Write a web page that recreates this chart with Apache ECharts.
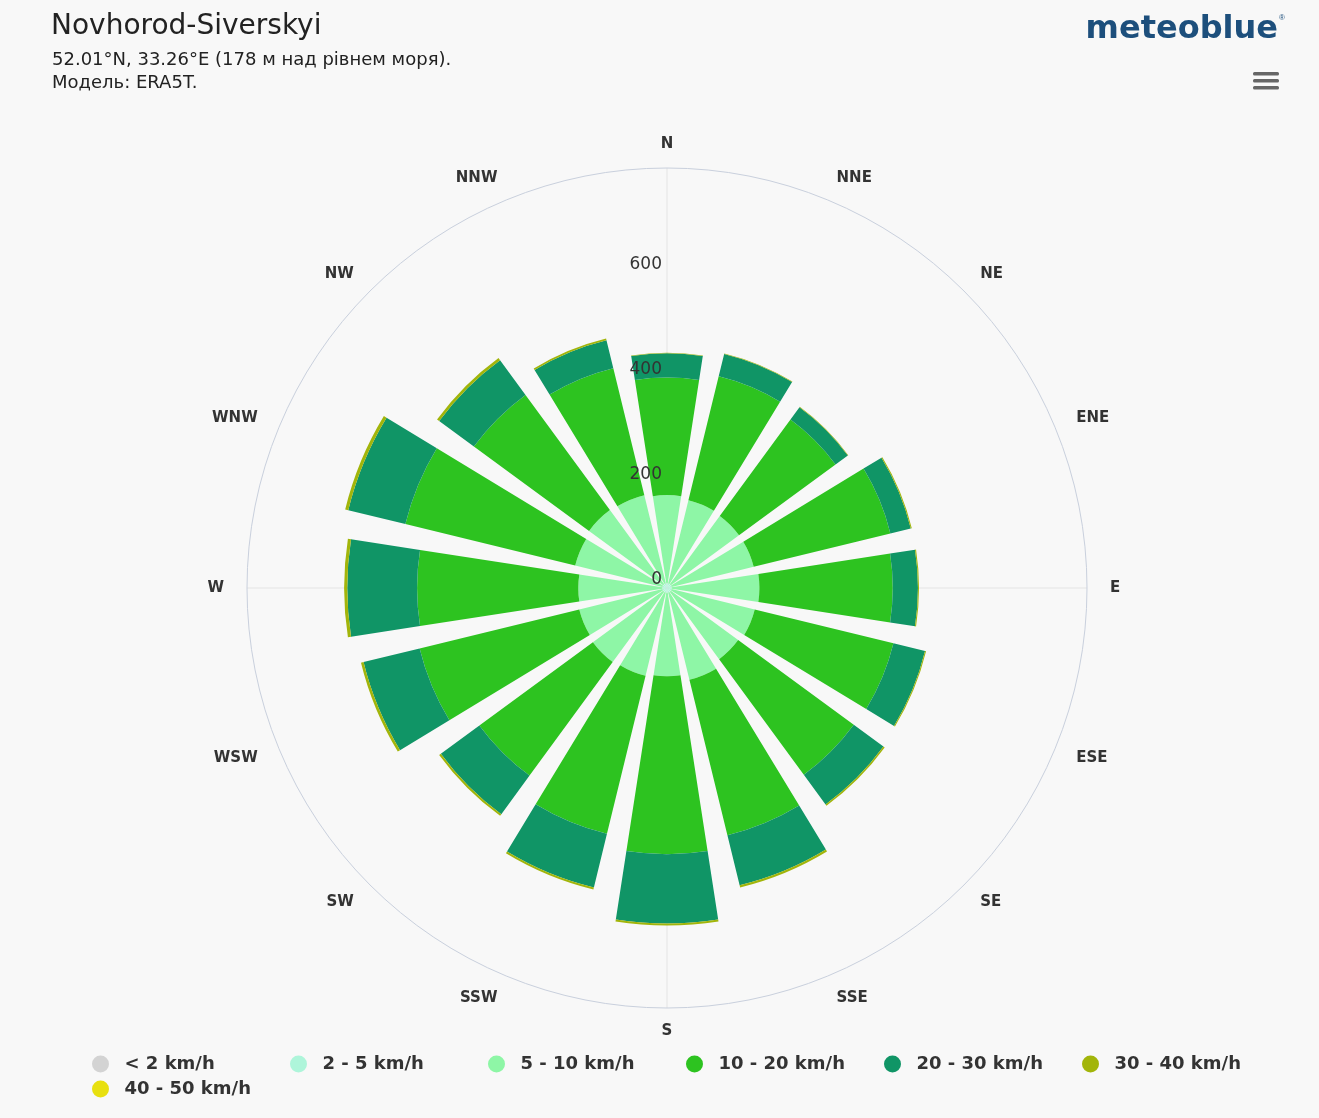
<!DOCTYPE html>
<html>
<head>
<meta charset="utf-8">
<script src="https://cdn.jsdelivr.net/npm/echarts@6/dist/echarts.min.js"></script>
<style>
html,body{margin:0;padding:0;background:#f8f8f8;}
#chart{width:1319px;height:1118px;}
</style>
</head>
<body>
<div id="chart"></div>
<script>
// ---- data ----
const directions = ['N','NNE','NE','ENE','E','ESE','SE','SSE','S','SSW','SW','WSW','W','WNW','NW','NNW'];
const speedClasses = ['< 2 km/h','2 - 5 km/h','5 - 10 km/h','10 - 20 km/h','20 - 30 km/h','30 - 40 km/h','40 - 50 km/h'];
const calm       = [1,1,1,1,1,1,1,1,1,1,1,1,1,1,1,1];
const speed2_5   = [8,8,8,8,8,8,8,8,8,8,8,8,8,8,8,8];
const speed5_10  = [168,163,161,161,167,163,159,171,159,163,166,163,160,171,175,173];
const speed10_20 = [224,243,228,268,254,272,273,305,339,310,268,313,307,333,272,249];
const speed20_30 = [46,44,29,40,48,62,70,98,132,105,91,110,133,112,82,55];
const speed30_40 = [1,1,1,2,2,2,3,4,4,4,4,5,6,6,5,3];
const speed40_50 = [0,0,0,0,0,0,0,0,0,0,0,0,0,0,0,0];
const radiusTicks = [0,200,400,600,800];

const colors = ['#d3d3d3','#aef5da','#8ef6a6','#2dc320','#109566','#a2b50a','#e8e010'];
const seriesValues = [calm, speed2_5, speed5_10, speed10_20, speed20_30, speed30_40, speed40_50];

const FONT = 'DejaVu Sans';
const chart = echarts.init(document.getElementById('chart'));

const series = speedClasses.map((name, i) => ({
  name: name,
  type: 'bar',
  coordinateSystem: 'polar',
  polarIndex: 0,
  stack: 'wind',
  barCategoryGap: '22%',
  data: seriesValues[i],
  itemStyle: { color: colors[i] },
  emphasis: { disabled: true },
  z: 2
}));

chart.setOption({
  backgroundColor: '#f8f8f8',
  animation: false,
  color: colors,
  textStyle: { fontFamily: FONT },
  title: [
    { text: 'Novhorod-Siverskyi', left: 46, top: 8,
      textStyle: { fontFamily: FONT, fontSize: 28, fontWeight: 'normal', color: '#222' } },
    { text: '52.01°N, 33.26°E (178 м над рівнем моря).\nМодель: ERA5T.', left: 47, top: 44,
      textStyle: { fontFamily: FONT, fontSize: 18, fontWeight: 'normal', color: '#222', lineHeight: 23 } },
    { text: 'meteoblue', right: 36, top: 9,
      textStyle: { fontFamily: FONT, fontSize: 32, fontWeight: 'bold', color: '#1d4f7c' } }
  ],
  graphic: [
    { type: 'text', left: 1279, top: 14, style: { text: '®', fontSize: 8, fill: '#1d4f7c' } },
    { type: 'rect', shape: { x: 1253, y: 72, width: 26, height: 3.5, r: 1.5 }, style: { fill: '#666' } },
    { type: 'rect', shape: { x: 1253, y: 79, width: 26, height: 3.5, r: 1.5 }, style: { fill: '#666' } },
    { type: 'rect', shape: { x: 1253, y: 86, width: 26, height: 3.5, r: 1.5 }, style: { fill: '#666' } }
  ],
  legend: {
    left: 87, top: 1050, width: 1230,
    orient: 'horizontal',
    icon: 'circle', itemWidth: 18, itemHeight: 17, itemGap: 7,
    selectedMode: false,
    data: speedClasses,
    formatter: name => '{t|' + name + '}',
    textStyle: {
      fontFamily: FONT, fontSize: 18, fontWeight: 'bold', color: '#333',
      rich: { t: { fontFamily: FONT, fontSize: 18, fontWeight: 'bold', color: '#333', width: 158.5, lineHeight: 17, padding: [0,0,0,10] } }
    }
  },
  polar: [
    { center: [667, 588], radius: [0, 420] },
    { center: [667, 588], radius: [0, 420] }
  ],
  angleAxis: [
    { polarIndex: 0, type: 'category', data: directions, startAngle: 101.25, clockwise: true,
      boundaryGap: true,
      axisLine: { show: true, lineStyle: { color: '#c9d0dd', width: 1 } },
      axisTick: { show: false },
      splitLine: { show: false },
      axisLabel: { show: true, margin: 23, lineHeight: 1, fontFamily: FONT, fontSize: 15, fontWeight: 'bold', color: '#333' } },
    { polarIndex: 1, type: 'value', min: 0, max: 360, interval: 90, startAngle: 90, clockwise: true,
      axisLine: { show: false }, axisTick: { show: false }, axisLabel: { show: false },
      splitLine: { show: true, lineStyle: { color: '#e4e4e4', width: 1 } } }
  ],
  radiusAxis: [
    { polarIndex: 0, type: 'value', min: 0, max: 800, interval: 200,
      axisLine: { show: false }, axisTick: { show: false }, axisLabel: { show: false }, splitLine: { show: false } },
    { polarIndex: 1, type: 'value', min: radiusTicks[0], max: radiusTicks[radiusTicks.length-1], interval: 200, z: 10,
      axisLine: { show: false }, axisTick: { show: false }, splitLine: { show: false },
      axisLabel: { show: true, margin: 5, verticalAlign: 'bottom', fontFamily: FONT, fontSize: 17, color: '#333',
        formatter: v => (v === 800 ? '' : String(v)) } }
  ],
  series: series
});
</script>
</body>
</html>
